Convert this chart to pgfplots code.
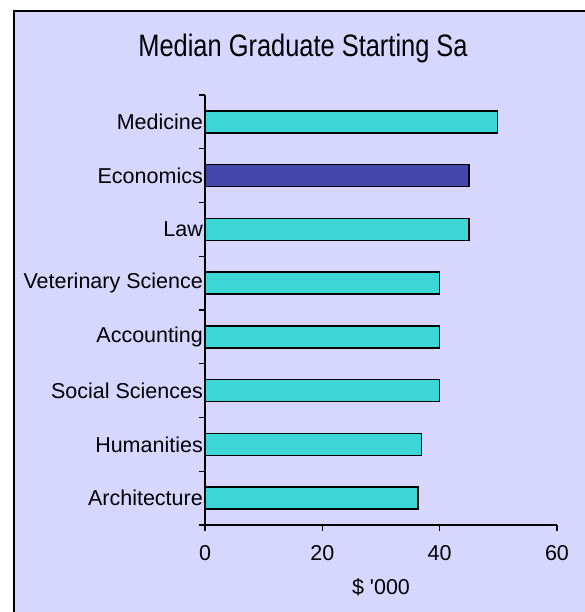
\documentclass[border=0pt]{standalone}
\usepackage{fontspec}
\setmainfont{Liberation Sans}
\newfontfamily\titlefont[FakeStretch=0.82]{Liberation Sans}
\usepackage{pgfplots}
\pgfplotsset{compat=1.18}
\definecolor{bg}{HTML}{D6D6FF}
\definecolor{cyanbar}{HTML}{3CD6D6}
\definecolor{econ}{HTML}{4447A9}
\pgfplotstableread{
y x
1 36.3
2 36.9
3 40
4 40
5 40
6 45
8 49.9
}\cyandata
\pgfplotstableread{
y x
7 45
}\econdata
\begin{document}
\begin{tikzpicture}[x=1pt,y=1pt]
\useasboundingbox (0,0) rectangle (584,612);
\fill[white] (0,0) rectangle (584,612);
\fill[bg] (14,-5) rectangle (590,601);
\draw[line width=2.2pt] (14,-5) -- (14,601) -- (590,601);
\node[font=\titlefont\fontsize{31}{31}\selectfont, anchor=base] at (303,555) {Median Graduate Starting Sa};
\begin{axis}[at={(205pt,87pt)}, anchor=south west, scale only axis,
  width=352pt, height=430pt,
  xmin=0, xmax=60, ymin=0.5, ymax=8.5,
  axis x line=bottom, axis y line=left,
  axis line style={-, line width=1.4pt, black},
  xtick={0,20,40,60},
  ytick={1,...,8},
  yticklabels={Architecture,Humanities,Social Sciences,Accounting,Veterinary Science,Law,Economics,Medicine},
  minor ytick={0.5,1.5,...,8.5},
  tick align=outside,
  major tick length=6pt, minor tick length=6pt,
  every tick/.style={black, line width=1.4pt},
  major y tick style={draw=none},
  /pgf/number format/assume math mode=true,
  tick label style={font=\fontsize{21.5}{21.5}\selectfont, inner sep=0pt},
  yticklabel style={anchor=east, xshift=4pt},
  xticklabel style={anchor=north, yshift=-14pt},
  xlabel={\$ \textquotesingle 000},
  xlabel style={font=\fontsize{21.5}{21.5}\selectfont, at={(axis description cs:0.5,0)}, anchor=center, yshift=-62pt},
  clip=false,
]
\addplot[xbar, bar width=22pt, bar shift=0pt, fill=cyanbar, draw=black, line width=1.4pt] table[x=x, y=y] {\cyandata};
\addplot[xbar, bar width=22pt, bar shift=0pt, fill=econ, draw=black, line width=1.4pt] table[x=x, y=y] {\econdata};
\end{axis}
\end{tikzpicture}
\end{document}
